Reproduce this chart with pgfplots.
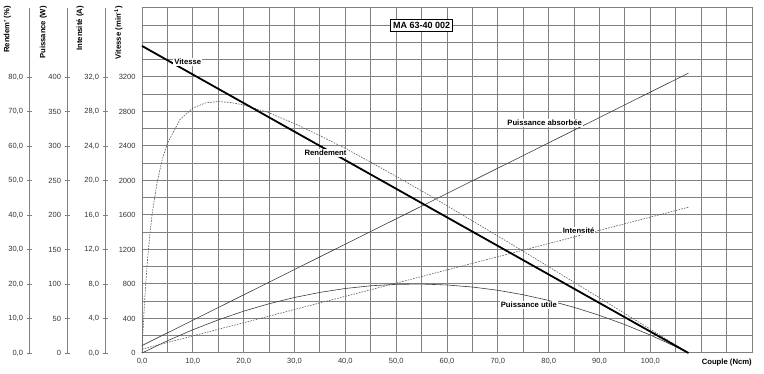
\documentclass[border=0pt]{standalone}
\usepackage{pgfplots}
\usepackage{pgfplotstable}
\pgfplotsset{compat=1.18}
\usepackage{fontspec}
\setmainfont{Liberation Sans}
\definecolor{gridc}{HTML}{808080}
\definecolor{linec}{HTML}{3C3C3C}
\definecolor{dashc}{HTML}{5A5A5A}
\newcommand\lab{\bfseries\fontsize{7.7}{9}\selectfont}
\newcommand\tck{\fontsize{7.5}{9}\selectfont}

\pgfplotsset{
  scaleax/.style={anchor=south west, scale only axis, width=20pt, height=345pt,
    xmin=0, xmax=1, enlargelimits=false,
    axis x line=none, axis y line=left,
    y axis line style={-, draw=gridc, line width=1pt},
    tick align=center, major tick length=5pt,
    tick style={gridc, line width=0.8pt},
    /pgf/number format/assume math mode=true,
    yticklabel style={font=\tck, text=black!80}},
}

\pgfplotstableread{
x eta
0 0
0.25 7.9
0.5 14.7
1 25.5
1.5 33.7
2 40.3
3 49.7
4 56.2
5 60.8
7.5 67.7
10 71.0
12.5 72.5
15 72.9
17.5 72.6
20 71.9
25 69.6
30 66.5
35 63.0
40 59.3
45 55.3
50 51.2
55 47.0
60 42.7
65 38.3
70 33.9
75 29.5
80 25.0
85 20.5
90 16.0
95 11.4
100 6.9
105 2.3
107.5 0
}\rendement

\pgfplotstableread{
x P
0 0
5 17.7
10 33.7
15 48.0
20 60.6
25 71.4
30 80.5
35 87.8
40 93.5
45 97.4
50 99.5
55 99.9
60 98.6
65 95.6
70 90.9
75 84.4
80 76.2
85 66.2
90 54.5
95 41.1
100 26.0
105 9.1
107.5 0
}\putile

\pgfplotstableread{
x P
0 10.8
107.5 405.6
}\pabs

\pgfplotstableread{
x I
0 0.45
107.5 16.9
}\intens

\pgfplotstableread{
x n
0 3560
107.5 0
}\vitesse

\begin{document}
\begin{tikzpicture}
\path[use as bounding box] (0,0) rectangle (764pt,374pt);

% Rendement scale
\begin{axis}[scaleax, at={(29pt,21pt)}, ymin=0, ymax=100, ytick={0,10,...,80},
  yticklabel style={/pgf/number format/.cd, fixed, fixed zerofill, precision=1, use comma}]
\end{axis}
% Puissance scale
\begin{axis}[scaleax, at={(67pt,21pt)}, ymin=0, ymax=500, ytick={0,50,...,400},
  yticklabel style={/pgf/number format/.cd, fixed, precision=0}]
\end{axis}
% Intensite scale
\begin{axis}[scaleax, at={(105pt,21pt)}, ymin=0, ymax=40, ytick={0,4,...,32},
  yticklabel style={/pgf/number format/.cd, fixed, fixed zerofill, precision=1, use comma}]
\end{axis}

% Main axis (Vitesse)
\begin{axis}[at={(142pt,21pt)}, anchor=south west, scale only axis,
  width=610pt, height=345pt,
  xmin=0, xmax=120, ymin=0, ymax=4000, enlargelimits=false,
  xtick={0,10,...,100}, minor xtick={5,15,...,105,110,115},
  ytick={0,400,...,3200}, minor ytick={200,600,...,3800,3600},
  grid=both,
  major grid style={gridc, line width=1pt},
  minor grid style={gridc, line width=1pt},
  axis line style={gridc, line width=1pt},
  major tick length=0pt, minor tick length=0pt,
  /pgf/number format/assume math mode=true,
  xticklabel style={font=\tck, text=black!80, yshift=-2pt,
    /pgf/number format/.cd, fixed, fixed zerofill, precision=1, use comma},
  yticklabel style={font=\tck, text=black!80, xshift=-3pt,
    /pgf/number format/.cd, fixed, precision=0, 1000 sep={}},
  clip=false]

\addplot[linec, line width=0.6pt] table[x=x, y expr=\thisrow{P}*8] {\pabs};
\addplot[linec, line width=0.6pt] table[x=x, y expr=\thisrow{P}*8] {\putile};
\addplot[dashc, line width=0.6pt, dash pattern=on 1.6pt off 1.2pt] table[x=x, y expr=\thisrow{I}*100] {\intens};
\addplot[dashc, line width=0.6pt, dash pattern=on 1.6pt off 1.2pt] table[x=x, y expr=\thisrow{eta}*40] {\rendement};
\addplot[black, line width=1.8pt] table[x=x, y=n] {\vitesse};

\node[fill=white, inner sep=1pt, font=\lab] at (axis cs:9,3374) {Vitesse};
\node[fill=white, inner sep=1pt, font=\lab] at (axis cs:36.1,2319) {Rendement};
\node[fill=white, inner sep=1pt, font=\lab] at (axis cs:79.2,2667) {Puissance absorbée};
\node[fill=white, inner sep=1pt, font=\lab] at (axis cs:85.9,1414) {Intensité};
\node[fill=white, inner sep=1pt, font=\lab] at (axis cs:76.1,556) {Puissance utile};
\node[draw=black, fill=white, inner sep=2.5pt, line width=0.6pt,
  font=\bfseries\fontsize{9}{10}\selectfont] at (axis cs:55,3800) {MA 63-40 002};
\end{axis}

% Axis titles
\node[rotate=90, anchor=east, inner sep=0pt, font=\lab] at (7.5pt,368pt) {Rendem' (\%)};
\node[rotate=90, anchor=east, inner sep=0pt, font=\lab] at (43.5pt,368pt) {Puissance (W)};
\node[rotate=90, anchor=east, inner sep=0pt, font=\lab] at (80pt,368pt) {Intensité (A)};
\node[rotate=90, anchor=east, inner sep=0pt, font=\lab] at (118.5pt,368pt) {Vitesse (min\textsuperscript{-1})};
\node[anchor=east, inner sep=0pt, font=\lab] at (752pt,11pt) {Couple (Ncm)};
\end{tikzpicture}
\end{document}
